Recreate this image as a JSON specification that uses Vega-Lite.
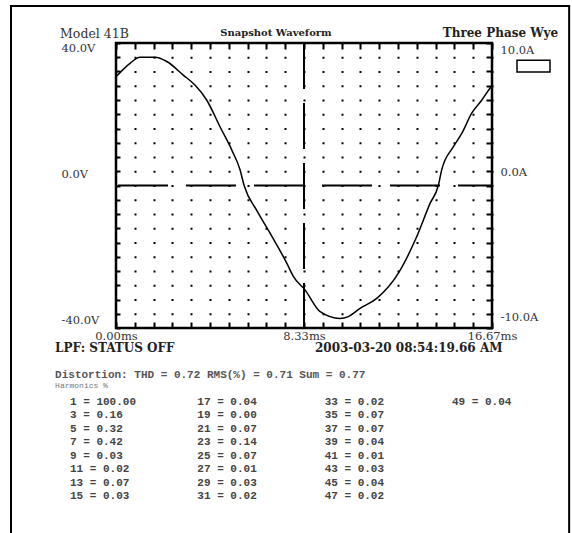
{
  "$schema": "https://vega.github.io/schema/vega-lite/v6.json",
  "width": 376,
  "height": 285,
  "autosize": {"type": "none"},
  "padding": {"left": 116, "top": 43, "right": 80, "bottom": 205},
  "background": "white",
  "config": {"view": {"stroke": "black", "strokeWidth": 2.5}},
  "datasets": {
    "wave": [
      {"t": 0, "v": 30.5}, {"t": 0.62, "v": 34.3}, {"t": 1.06, "v": 36.0}, {"t": 1.73, "v": 36.0},
      {"t": 2.25, "v": 34.8}, {"t": 2.98, "v": 31.0}, {"t": 3.5, "v": 28.2}, {"t": 4.02, "v": 24.0},
      {"t": 4.61, "v": 16.5}, {"t": 5.13, "v": 10.0}, {"t": 5.5, "v": 4.4}, {"t": 5.68, "v": 0},
      {"t": 6.24, "v": -7.0}, {"t": 6.83, "v": -13.4}, {"t": 7.57, "v": -21.8}, {"t": 7.86, "v": -25.5},
      {"t": 8.38, "v": -29.3}, {"t": 9.05, "v": -35.4}, {"t": 9.93, "v": -37.3}, {"t": 10.3, "v": -36.8},
      {"t": 10.82, "v": -34.5}, {"t": 11.56, "v": -31.7}, {"t": 12.52, "v": -24.6}, {"t": 13.33, "v": -14.4},
      {"t": 13.92, "v": -5.1}, {"t": 14.29, "v": 0}, {"t": 14.44, "v": 4.4}, {"t": 14.96, "v": 10.9},
      {"t": 15.33, "v": 14.6}, {"t": 15.77, "v": 20.3}, {"t": 16.22, "v": 24.0}, {"t": 16.58, "v": 27.3},
      {"t": 16.67, "v": 28.0}
    ],
    "harmonics": [
      {"h": 1, "pct": 100}, {"h": 3, "pct": 0.16}, {"h": 5, "pct": 0.32}, {"h": 7, "pct": 0.42},
      {"h": 9, "pct": 0.03}, {"h": 11, "pct": 0.02}, {"h": 13, "pct": 0.07}, {"h": 15, "pct": 0.03},
      {"h": 17, "pct": 0.04}, {"h": 19, "pct": 0.0}, {"h": 21, "pct": 0.07}, {"h": 23, "pct": 0.14},
      {"h": 25, "pct": 0.07}, {"h": 27, "pct": 0.01}, {"h": 29, "pct": 0.03}, {"h": 31, "pct": 0.02},
      {"h": 33, "pct": 0.02}, {"h": 35, "pct": 0.07}, {"h": 37, "pct": 0.07}, {"h": 39, "pct": 0.04},
      {"h": 41, "pct": 0.01}, {"h": 43, "pct": 0.03}, {"h": 45, "pct": 0.04}, {"h": 47, "pct": 0.02},
      {"h": 49, "pct": 0.04}
    ]
  },
  "resolve": {"scale": {"x": "independent", "y": "independent"}},
  "layer": [
    {
      "layer": [
        {
          "data": {"name": "wave"},
          "mark": {"type": "line", "stroke": "black", "strokeWidth": 1.5, "interpolate": "monotone"},
          "encoding": {
            "x": {
              "field": "t", "type": "quantitative",
              "scale": {"domain": [0, 16.67], "nice": false, "zero": false},
              "axis": {
                "orient": "bottom", "title": null, "domain": false,
                "values": [0, 0.8335, 1.667, 2.5005, 3.334, 4.1675, 5.001, 5.8345, 6.668, 7.5015, 8.335, 9.1685, 10.002, 10.8355, 11.669, 12.5025, 13.336, 14.1695, 15.003, 15.8365, 16.67],
                "tickSize": -6, "tickWidth": 2, "tickColor": "black",
                "grid": true, "gridColor": "black", "gridWidth": 2, "gridDash": [2, 12.25], "gridDashOffset": 1,
                "labelExpr": "abs(datum.value) < 0.01 ? '0.00ms' : abs(datum.value - 8.335) < 0.01 ? '8.33ms' : abs(datum.value - 16.67) < 0.01 ? '16.67ms' : ''",
                "labelFont": "DejaVu Serif", "labelFontSize": 11.5, "labelColor": "#333",
                "labelPadding": 8, "labelBaseline": "top", "labelOverlap": false, "labelFlush": false
              }
            },
            "y": {
              "field": "v", "type": "quantitative",
              "scale": {"domain": [-40, 40], "nice": false, "zero": false},
              "axis": {
                "orient": "left", "title": null, "domain": false, "grid": false,
                "values": [-40, -36, -32, -28, -24, -20, -16, -12, -8, -4, 0, 4, 8, 12, 16, 20, 24, 28, 32, 36, 40],
                "tickSize": -4, "tickWidth": 2, "tickColor": "black",
                "labelExpr": "datum.value == 40 ? '40.0V' : datum.value == 0 ? '0.0V' : datum.value == -40 ? '-40.0V' : ''",
                "labelFont": "DejaVu Serif", "labelFontSize": 11.5, "labelColor": "#333",
                "labelAlign": "left", "labelBaseline": "middle", "labelPadding": 59,
                "labelOffset": {"condition": [{"test": "datum.value > 30", "value": 5}, {"test": "datum.value < -30", "value": -8}], "value": -11},
                "labelOverlap": false, "labelFlush": false
              }
            }
          }
        },
        {
          "data": {"values": [{"t": 0, "v": 0}]},
          "mark": {"type": "rule", "opacity": 0},
          "encoding": {
            "x": {
              "field": "t", "type": "quantitative",
              "axis": {
                "orient": "top", "title": null, "domain": false, "grid": false, "labels": false,
                "values": [0, 0.8335, 1.667, 2.5005, 3.334, 4.1675, 5.001, 5.8345, 6.668, 7.5015, 8.335, 9.1685, 10.002, 10.8355, 11.669, 12.5025, 13.336, 14.1695, 15.003, 15.8365, 16.67],
                "tickSize": -6, "tickWidth": 2, "tickColor": "black"
              }
            },
            "y": {
              "field": "v", "type": "quantitative",
              "axis": {"orient": "right", "title": null, "domain": false, "grid": false, "labels": false, "ticks": false}
            }
          }
        },
        {
          "data": {"values": [{"v": 0}]},
          "mark": {"type": "rule", "stroke": "black", "strokeWidth": 2, "strokeDash": [50, 18], "strokeDashOffset": 16},
          "encoding": {"y": {"field": "v", "type": "quantitative", "axis": null}}
        },
        {
          "data": {"values": [{"t": 8.335}]},
          "mark": {"type": "rule", "stroke": "black", "strokeWidth": 2, "strokeDash": [46, 14]},
          "encoding": {"x": {"field": "t", "type": "quantitative", "axis": null}}
        },
        {
          "data": {"values": [{"label": "frame"}]},
          "mark": {"type": "rect", "filled": false, "fill": null, "stroke": "black", "strokeWidth": 2},
          "encoding": {
            "x": {"datum": -4.655, "type": "quantitative", "axis": null},
            "x2": {"datum": 20.09},
            "y": {"datum": 50.39, "type": "quantitative", "axis": null},
            "y2": {"datum": -99}
          }
        },
        {
          "data": {"values": [{"label": "Model 41B"}]},
          "mark": {"type": "text", "align": "left", "baseline": "middle", "font": "DejaVu Serif", "fontSize": 12.5, "fontWeight": "normal", "color": "#333"},
          "encoding": {"x": {"datum": -2.48, "type": "quantitative", "axis": null}, "y": {"datum": 42.6, "type": "quantitative", "axis": null}, "text": {"field": "label"}}
        },
        {
          "data": {"values": [{"label": "Snapshot Waveform"}]},
          "mark": {"type": "text", "align": "center", "baseline": "middle", "font": "DejaVu Serif", "fontSize": 10, "fontWeight": "bold", "color": "#222"},
          "encoding": {"x": {"datum": 7.09, "type": "quantitative", "axis": null}, "y": {"datum": 42.8, "type": "quantitative", "axis": null}, "text": {"field": "label"}}
        },
        {
          "data": {"values": [{"label": "Three Phase Wye"}]},
          "mark": {"type": "text", "align": "right", "baseline": "middle", "font": "DejaVu Serif", "fontSize": 12, "fontWeight": "bold", "color": "#222"},
          "encoding": {"x": {"datum": 19.6, "type": "quantitative", "axis": null}, "y": {"datum": 42.8, "type": "quantitative", "axis": null}, "text": {"field": "label"}}
        },
        {
          "data": {"values": [{"label": "LPF: STATUS OFF"}]},
          "mark": {"type": "text", "align": "left", "baseline": "middle", "font": "DejaVu Serif", "fontSize": 12, "fontWeight": "bold", "color": "#222"},
          "encoding": {"x": {"datum": -2.7, "type": "quantitative", "axis": null}, "y": {"datum": -45.6, "type": "quantitative", "axis": null}, "text": {"field": "label"}}
        },
        {
          "data": {"values": [{"label": "2003-03-20  08:54:19.66 AM"}]},
          "mark": {"type": "text", "align": "left", "baseline": "middle", "font": "DejaVu Serif", "fontSize": 12, "fontWeight": "bold", "color": "#222"},
          "encoding": {"x": {"datum": 8.82, "type": "quantitative", "axis": null}, "y": {"datum": -45.6, "type": "quantitative", "axis": null}, "text": {"field": "label"}}
        },
        {
          "data": {"values": [{"label": "Distortion: THD = 0.72   RMS(%) = 0.71   Sum = 0.77"}]},
          "mark": {"type": "text", "align": "left", "baseline": "middle", "font": "Liberation Mono", "fontSize": 11, "fontWeight": "bold", "color": "#555"},
          "encoding": {"x": {"datum": -2.7, "type": "quantitative", "axis": null}, "y": {"datum": -53.2, "type": "quantitative", "axis": null}, "text": {"field": "label"}}
        },
        {
          "data": {"values": [{"label": "Harmonics %"}]},
          "mark": {"type": "text", "align": "left", "baseline": "middle", "font": "Liberation Mono", "fontSize": 8, "color": "#777"},
          "encoding": {"x": {"datum": -2.7, "type": "quantitative", "axis": null}, "y": {"datum": -56.3, "type": "quantitative", "axis": null}, "text": {"field": "label"}}
        },
        {
          "data": {"values": [{"label": "legend"}]},
          "mark": {"type": "point", "shape": "M-1,-0.36L1,-0.36L1,0.36L-1,0.36Z", "size": 1089, "filled": false, "stroke": "black", "strokeWidth": 1.5, "opacity": 1},
          "encoding": {"x": {"datum": 18.51, "type": "quantitative", "axis": null}, "y": {"datum": 33.5, "type": "quantitative", "axis": null}}
        }
      ]
    },
    {
      "data": {"values": [{"amps": -10}, {"amps": 10}]},
      "mark": {"type": "rule", "opacity": 0},
      "encoding": {
        "y": {
          "field": "amps", "type": "quantitative",
          "scale": {"domain": [-10, 10], "nice": false, "zero": false},
          "axis": {
            "orient": "right", "title": null, "domain": false, "grid": false,
            "values": [-10, -9, -8, -7, -6, -5, -4, -3, -2, -1, 0, 1, 2, 3, 4, 5, 6, 7, 8, 9, 10],
            "tickSize": -6, "tickWidth": 2, "tickColor": "black",
            "labelExpr": "datum.value == 10 ? '10.0A' : datum.value == 0 ? '0.0A' : datum.value == -10 ? '-10.0A' : ''",
            "labelFont": "DejaVu Serif", "labelFontSize": 11.5, "labelColor": "#333",
            "labelAlign": "left", "labelBaseline": "middle", "labelPadding": 14,
            "labelOffset": {"condition": [{"test": "datum.value > 5", "value": 7}, {"test": "datum.value < -5", "value": -11}], "value": -13},
            "labelOverlap": false, "labelFlush": false
          }
        }
      }
    },
    {
      "data": {"name": "harmonics"},
      "transform": [
        {"calculate": "floor((datum.h - 1) / 16)", "as": "col"},
        {"calculate": "((datum.h - 1) / 2) % 8", "as": "row"},
        {"calculate": "datum.h + ' = ' + format(datum.pct, '.2f')", "as": "label"}
      ],
      "mark": {"type": "text", "align": "left", "baseline": "middle", "font": "Liberation Mono", "fontSize": 11, "fontWeight": "bold", "color": "#444"},
      "encoding": {
        "x": {"field": "col", "type": "quantitative", "scale": {"domain": [0, 3], "range": [-46, 336]}, "axis": null},
        "y": {"field": "row", "type": "quantitative", "scale": {"domain": [0, 7], "range": [359, 453]}, "axis": null},
        "text": {"field": "label"}
      }
    }
  ]
}
